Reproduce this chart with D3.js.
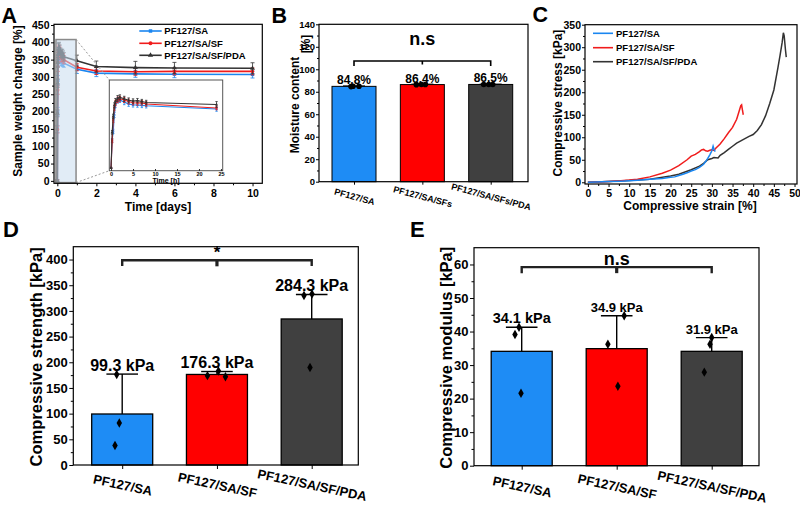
<!DOCTYPE html>
<html><head><meta charset="utf-8">
<script src="https://cdn.jsdelivr.net/npm/d3@7"></script>
<style>body{margin:0;background:#fff}</style>
</head><body>
<svg id="fig" width="800" height="512"></svg>
<script>
// ---------------- DATA ----------------
const groups = ["PF127/SA", "PF127/SA/SF", "PF127/SA/SF/PDA"];
const groupsB = ["PF127/SA", "PF127/SA/SFs", "PF127/SA/SFs/PDA"];

// Panel A: swelling (time in hours)
const hoursA = [0, 0.25, 0.5, 0.75, 1, 1.5, 2, 3, 4, 5, 6, 7, 8, 24, 48, 96, 144, 240];
const weightSA  = [0, 150, 200, 290, 345, 370, 372, 360, 350, 345, 344, 342, 340, 322, 311, 309, 308, 307];
const weightSF  = [0, 148, 262, 330, 355, 372, 378, 372, 363, 357, 355, 356, 350, 328, 317, 315, 316, 316];
const weightPDA = [0, 195, 282, 342, 365, 380, 386, 378, 370, 366, 368, 363, 358, 347, 330, 327, 326, 325];
const errSA  = [3, 10, 12, 14, 15, 15, 14, 14, 13, 12, 12, 12, 12, 12, 10, 10, 10, 10];
const errSF  = [3, 10, 12, 14, 15, 15, 14, 14, 13, 12, 12, 12, 12, 10, 10, 10, 10, 10];
const errPDA = [3, 10, 12, 14, 15, 16, 14, 14, 13, 12, 12, 12, 12, 16, 16, 18, 16, 16];
const yTicksA = [0, 50, 100, 150, 200, 250, 300, 350, 400, 450];
const xTicksA = [0, 2, 4, 6, 8, 10];
const xTicksInset = [0, 5, 10, 15, 20, 25];
const zoomBox = {x0: -0.07, x1: 0.96, y0: -5, y1: 408};

// Panel B: moisture content
const moisture = [84.8, 86.4, 86.5];
const moistureErr = [0.4, 0.4, 0.3];
const moistureDots = [[84.6, 84.9, 84.9], [86.3, 86.5, 86.4], [86.5, 86.5, 86.5]];
const moistureLabels = ["84.8%", "86.4%", "86.5%"];
const yTicksB = [0, 20, 40, 60, 80, 100, 120, 140];

// Panel C: stress-strain curves
const strainSA = [0, 2, 5, 8, 10, 12, 15, 18, 20, 21, 22, 23, 24, 25, 26, 27, 28, 28.5, 29, 29.5, 30, 30.3, 30.5, 30.8];
const stressSA = [0, 0.5, 1.5, 2.5, 3.5, 4.5, 6.5, 8.5, 11, 12, 15, 18, 21, 25, 28, 33, 40, 46, 53, 61, 70, 80, 74, 68];
const strainSF = [0, 2, 5, 8, 10, 12, 15, 18, 20, 22, 24, 25, 26, 27, 27.5, 28, 28.5, 29, 29.5, 30, 30.5, 31, 32, 33, 34, 35, 36, 36.5, 37, 37.2, 37.4, 37.6];
const stressSF = [0, 0.8, 2, 3.5, 5, 7, 12, 20, 27, 37, 50, 58, 62, 68, 72, 73, 70, 69, 71, 72, 71, 76, 85, 97, 110, 122, 140, 155, 170, 172, 160, 150];
const strainPDA = [0, 5, 10, 15, 20, 22, 25, 27, 28, 29, 30, 30.5, 31.5, 32, 33, 34, 35, 36, 37, 38, 39, 40, 41, 42, 43, 44, 45, 46, 46.5, 47, 47.3, 47.5, 47.8, 48];
const stressPDA = [0, 1.5, 4, 7, 14, 18, 28, 36, 42, 50, 53, 55, 54, 60, 66, 73, 80, 87, 92, 97, 102, 106, 115, 128, 148, 175, 205, 255, 282, 310, 332, 325, 295, 278];
const yTicksC = [0, 50, 100, 150, 200, 250, 300, 350];
const xTicksC = [0, 5, 10, 15, 20, 25, 30, 35, 40, 45, 50];

// Panel D: compressive strength
const strength = [99.3, 176.3, 284.3];
const strengthErrTop = [177, 182, 332];
const strengthDots = [[176, 82, 38], [174, 183, 172], [330, 333, 190]];
const strengthLabels = ["99.3 kPa", "176.3 kPa", "284.3 kPa"];
const yTicksD = [0, 50, 100, 150, 200, 250, 300, 350, 400];

// Panel E: compressive modulus
const modulus = [34.1, 34.9, 34.1];
const modulusErrTop = [41.3, 44.7, 38.2];
const modulusDots = [[41.3, 39.1, 21.6], [44.7, 36.2, 23.7], [38.2, 36.2, 27.9]];
const modulusLabels = ["34.1 kPa", "34.9 kPa", "31.9 kPa"];
const yTicksE = [0, 10, 20, 30, 40, 50, 60];

// ---------------- STYLE ----------------
const FONT = "'Liberation Sans', Arial, Helvetica, sans-serif";
const barColors = ["#1e8cf5", "#ff0000", "#404040"];
const lineColors = ["#1a86f0", "#f01c1c", "#333333"];
const jitterB = [[-3, -1, 5], [-6, -1, 3], [-7, -2, 2]];
const jitterD = [[-5.5, -2.9, -7.2], [-9.5, 1.5, 8.5], [-7.7, 0.3, -1.7]];
const jitterE = [[-2.7, -6.7, -0.7], [7.5, -8.8, 1.2], [0, -1.7, -7.4]];
const labelSizeE = [14.5, 13, 13];

const svg = d3.select('#fig');
svg.append('rect').attr('width', 800).attr('height', 512).attr('fill', '#fff');

function styleAxis(sel, fs) {
  sel.select('.domain').remove();
  sel.selectAll('.tick line').attr('stroke', '#000').attr('stroke-width', 1);
  sel.selectAll('.tick text').attr('font-family', FONT).attr('font-weight', 'bold')
    .attr('font-size', fs).attr('fill', '#000');
}
function addAxis(g, axis, tx, ty, fs) {
  return g.append('g').attr('transform', `translate(${tx},${ty})`).call(axis).call(s => styleAxis(s, fs));
}
function frame(g, x0, x1, y0, y1, w = 1.2, col = '#000') {
  g.append('rect').attr('x', x0).attr('y', y0).attr('width', x1 - x0).attr('height', y1 - y0)
    .attr('fill', 'none').attr('stroke', col).attr('stroke-width', w);
}
function label(g, x, y, s, fs, anchor = 'middle', rot = 0) {
  const t = g.append('text').attr('font-family', FONT).attr('font-weight', 'bold')
    .attr('font-size', fs).attr('fill', '#000').attr('text-anchor', anchor).text(s);
  if (rot) t.attr('transform', `translate(${x},${y}) rotate(${rot})`).attr('dy', '0.35em');
  else t.attr('x', x).attr('y', y);
  return t;
}
function minor(ticks) {
  const out = [];
  for (let i = 0; i < ticks.length - 1; i++) out.push((ticks[i] + ticks[i + 1]) / 2);
  return out;
}
function rotLabels(sel, off, rot) {
  sel.selectAll('.tick text').attr('y', 0).attr('dy', '0.35em')
    .attr('transform', `translate(0,${off}) rotate(${rot})`).attr('text-anchor', 'middle');
}

// ================= PANEL A =================
{
  const g = svg.append('g');
  const L = 54, R = 262.3, T = 24.3, B = 183.3;
  const x = d3.scaleLinear([-0.17, 10.5], [L, R]);
  const y = d3.scaleLinear([-7, 452], [B, T]);
  addAxis(g, d3.axisLeft(y).tickValues(minor(yTicksA)).tickSize(2).tickFormat(''), L, 0, 0);
  addAxis(g, d3.axisLeft(y).tickValues(yTicksA).tickSize(3).tickPadding(1.5), L, 0, 10.5);
  addAxis(g, d3.axisBottom(x).tickValues([1, 3, 5, 7, 9]).tickSize(2).tickFormat(''), 0, B, 0);
  addAxis(g, d3.axisBottom(x).tickValues(xTicksA).tickSize(3).tickPadding(3.5), 0, B, 10.5);

  const series = [
    {v: weightSA, e: errSA, c: lineColors[0], sym: d3.symbolSquare},
    {v: weightSF, e: errSF, c: lineColors[1], sym: d3.symbolCircle},
    {v: weightPDA, e: errPDA, c: lineColors[2], sym: d3.symbolTriangle}
  ];
  function drawSeries(gg, xs, ys, pts, s, lw, cap, msize) {
    gg.append('path').datum(pts).attr('d', d3.line().x(d => xs(d.t)).y(d => ys(d.v)))
      .attr('fill', 'none').attr('stroke', s.c).attr('stroke-width', lw);
    const eb = gg.append('g').attr('stroke', s.c).attr('stroke-width', 0.8);
    pts.forEach(d => {
      eb.append('line').attr('x1', xs(d.t)).attr('x2', xs(d.t)).attr('y1', ys(d.v - d.e)).attr('y2', ys(d.v + d.e));
      [d.v - d.e, d.v + d.e].forEach(yy => eb.append('line').attr('x1', xs(d.t) - cap).attr('x2', xs(d.t) + cap)
        .attr('y1', ys(yy)).attr('y2', ys(yy)));
    });
    gg.append('g').selectAll('path').data(pts).join('path')
      .attr('d', d3.symbol(s.sym, msize)).attr('transform', d => `translate(${xs(d.t)},${ys(d.v)})`)
      .attr('fill', s.c);
  }
  series.forEach(s => {
    const pts = hoursA.map((h, i) => ({t: h / 24, v: s.v[i], e: s.e[i]}));
    drawSeries(g, x, y, pts, s, 1.6, 2, 10);
  });
  // zoom box
  g.append('rect').attr('x', x(zoomBox.x0)).attr('y', y(zoomBox.y1))
    .attr('width', x(zoomBox.x1) - x(zoomBox.x0)).attr('height', y(zoomBox.y0) - y(zoomBox.y1))
    .attr('fill', '#c9dcee').attr('fill-opacity', 0.55).attr('stroke', '#8a8a8a').attr('stroke-width', 1.5);
  // inset
  const iL = 109.3, iR = 222.7, iT = 80, iB = 170.7;
  g.append('line').attr('x1', x(zoomBox.x1)).attr('y1', y(zoomBox.y1)).attr('x2', iL).attr('y2', iT)
    .attr('stroke', '#999').attr('stroke-dasharray', '2,2');
  g.append('line').attr('x1', x(zoomBox.x1)).attr('y1', y(zoomBox.y0)).attr('x2', iL).attr('y2', iB)
    .attr('stroke', '#999').attr('stroke-dasharray', '2,2');
  g.append('rect').attr('x', iL).attr('y', iT).attr('width', iR - iL).attr('height', iB - iT).attr('fill', '#fff');
  const xi = d3.scaleLinear([-0.4, 25.4], [iL, iR]);
  const yi = d3.scaleLinear([-15, 481], [iB, iT]);
  series.forEach(s => {
    const pts = hoursA.map((h, i) => ({t: h, v: s.v[i], e: s.e[i]})).filter(d => d.t <= 24);
    drawSeries(g, xi, yi, pts, s, 1.1, 1.2, 4);
  });
  frame(g, iL, iR, iT, iB, 1, '#555');
  addAxis(g, d3.axisBottom(xi).tickValues(xTicksInset).tickSize(-1.5).tickPadding(1.2), 0, iB, 5.5);
  label(g, (iL + iR) / 2, 182.5, 'Time [h]', 7);
  
  frame(g, L, R, T, B);
  // legend
  const ly = [31, 43.3, 55.3];
  series.forEach((s, i) => {
    g.append('line').attr('x1', 139.3).attr('x2', 161.7).attr('y1', ly[i]).attr('y2', ly[i])
      .attr('stroke', s.c).attr('stroke-width', 1.6);
    g.append('path').attr('d', d3.symbol(s.sym, 12)).attr('transform', `translate(150.5,${ly[i]})`).attr('fill', s.c);
    label(g, 164.3, ly[i], groups[i], 9.5, 'start').attr('dy', '0.35em');
  });
  label(g, 158, 211, 'Time [days]', 12);
  label(g, 18, 101, 'Sample weight change [%]', 12, 'middle', -90);
  label(g, 1.5, 23.3, 'A', 21.5, 'start');
}

// ================= PANEL B =================
{
  const g = svg.append('g');
  const L = 319, R = 528, T = 24.3, B = 181.7;
  const x = d3.scalePoint(groupsB, [354, 490.7]);
  const y = d3.scaleLinear([0, 140], [B, T]);
  const bw = 44;
  groupsB.forEach((c, i) => {
    g.append('rect').attr('x', x(c) - bw / 2).attr('y', y(moisture[i])).attr('width', bw)
      .attr('height', y(0) - y(moisture[i])).attr('fill', barColors[i]).attr('stroke', '#000').attr('stroke-width', 1);
    const et = moisture[i] + moistureErr[i];
    g.append('line').attr('x1', x(c)).attr('x2', x(c)).attr('y1', y(moisture[i])).attr('y2', y(et)).attr('stroke', '#000');
    g.append('line').attr('x1', x(c) - 11).attr('x2', x(c) + 11).attr('y1', y(et)).attr('y2', y(et)).attr('stroke', '#000');
    g.append('g').selectAll('circle').data(moistureDots[i]).join('circle')
      .attr('cx', (d, j) => x(c) + jitterB[i][j]).attr('cy', d => y(d)).attr('r', 2.8).attr('fill', '#000');
    label(g, x(c), y(moisture[i]) - 2, moistureLabels[i], 12);
  });
  addAxis(g, d3.axisLeft(y).tickValues(minor(yTicksB)).tickSize(2).tickFormat(''), L, 0, 0);
  addAxis(g, d3.axisLeft(y).tickValues(yTicksB).tickSize(3).tickPadding(1), L, 0, 9.5);
  addAxis(g, d3.axisBottom(x).tickSize(3), 0, B, 9).call(s => rotLabels(s, 15, 15));
  frame(g, L, R, T, B);
  // bracket
  const by = 61;
  g.append('path').attr('d', `M${x(groupsB[0])},${by + 5}V${by}H${x(groupsB[2])}V${by + 5}M${x(groupsB[1])},${by}V${by + 3.5}`)
    .attr('fill', 'none').attr('stroke', '#000').attr('stroke-width', 1.6);
  label(g, x(groupsB[1]), 45, 'n.s', 18);
  label(g, 295, 94, 'Moisture content ', 12, 'middle', -90).append('tspan').attr('dy', 11).text('[%]');
  label(g, 271.5, 22.7, 'B', 21.5, 'start');
}

// ================= PANEL C =================
{
  const g = svg.append('g');
  const L = 585, R = 797, T = 24.7, B = 184;
  const x = d3.scaleLinear([-0.7, 50.6], [L, R]);
  const y = d3.scaleLinear([-3.8, 350], [B, T]);
  addAxis(g, d3.axisLeft(y).tickValues(minor(yTicksC)).tickSize(2).tickFormat(''), L, 0, 0);
  addAxis(g, d3.axisLeft(y).tickValues(yTicksC).tickSize(3).tickPadding(1), L, 0, 10.5);
  addAxis(g, d3.axisBottom(x).tickValues(minor(xTicksC)).tickSize(2).tickFormat(''), 0, B, 0);
  addAxis(g, d3.axisBottom(x).tickValues(xTicksC).tickSize(3).tickPadding(3), 0, B, 10.5);
  const curves = [[strainPDA, stressPDA, lineColors[2]], [strainSF, stressSF, lineColors[1]], [strainSA, stressSA, lineColors[0]]];
  curves.forEach(([xs, ys, c]) => {
    const pts = xs.map((v, i) => [v, ys[i]]);
    g.append('path').datum(pts).attr('d', d3.line().x(d => x(d[0])).y(d => y(d[1])))
      .attr('fill', 'none').attr('stroke', c).attr('stroke-width', 1.5);
  });
  frame(g, L, R, T, B);
  const ly = [33.3, 47.7, 61.7];
  groups.forEach((n, i) => {
    g.append('line').attr('x1', 593).attr('x2', 613).attr('y1', ly[i]).attr('y2', ly[i])
      .attr('stroke', lineColors[i]).attr('stroke-width', 1.6);
    label(g, 616, ly[i], n, 9.5, 'start').attr('dy', '0.35em');
  });
  label(g, 690, 210, 'Compressive strain [%]', 12);
  label(g, 558, 103, 'Compressive stress [kPa]', 12, 'middle', -90);
  label(g, 532.5, 21.7, 'C', 21.5, 'start');
}

// ============ PANELS D & E (bar charts) ============
function barPanel(opt) {
  const g = svg.append('g');
  const {L, R, T, B} = opt;
  const x = d3.scalePoint(groups, opt.centers);
  const y = d3.scaleLinear(opt.domain, [B, T]);
  const bw = 61;
  groups.forEach((c, i) => {
    const v = opt.values[i];
    g.append('rect').attr('x', x(c) - bw / 2).attr('y', y(v)).attr('width', bw).attr('height', y(0) - y(v))
      .attr('fill', barColors[i]).attr('stroke', '#000').attr('stroke-width', 1.3);
    g.append('line').attr('x1', x(c)).attr('x2', x(c)).attr('y1', y(v)).attr('y2', y(opt.errTop[i]))
      .attr('stroke', '#000').attr('stroke-width', 1.4);
    g.append('line').attr('x1', x(c) - 15.8).attr('x2', x(c) + 15.8).attr('y1', y(opt.errTop[i])).attr('y2', y(opt.errTop[i]))
      .attr('stroke', '#000').attr('stroke-width', 1.4);
    g.append('g').selectAll('path').data(opt.dots[i]).join('path')
      .attr('d', d3.symbol(d3.symbolDiamond, 26))
      .attr('transform', (d, j) => `translate(${x(c) + opt.jitter[i][j]},${y(d)})`).attr('fill', '#000');
    label(g, x(c), y(opt.errTop[i]) - opt.labelGap, opt.labels[i], opt.labelSizes[i]);
  });
  addAxis(g, d3.axisLeft(y).tickValues(minor(opt.ticks)).tickSize(2.5).tickFormat(''), L, 0, 0);
  addAxis(g, d3.axisLeft(y).tickValues(opt.ticks).tickSize(4).tickPadding(1.5), L, 0, 13);
  addAxis(g, d3.axisBottom(x).tickSize(4), 0, B, 13).call(s => rotLabels(s, opt.xlabOff, 12));
  frame(g, L, R, T, B);
  const by = y(opt.bracket.y), bd = y(opt.bracket.y - opt.bracket.drop);
  g.append('path').attr('d', `M${x(groups[0])},${bd}V${by}H${x(groups[2])}V${bd}`)
    .attr('fill', 'none').attr('stroke', '#222').attr('stroke-width', 2.4);
  g.append('line').attr('x1', x(groups[1])).attr('x2', x(groups[1])).attr('y1', by).attr('y2', by + 6)
    .attr('stroke', '#222').attr('stroke-width', 3.2);
  label(g, x(groups[1]), opt.sig.y, opt.sig.text, opt.sig.size);
  label(g, opt.ylabX, (T + B) / 2 + 1, opt.ylab, 16.5, 'middle', -90);
  label(g, opt.letterX, 236.7, opt.letter, 22, 'start');
}

barPanel({
  L: 73.3, R: 358.3, T: 246.7, B: 465, centers: [122.2, 311.7], domain: [0, 425],
  values: strength, errTop: strengthErrTop, dots: strengthDots, jitter: jitterD,
  labels: strengthLabels, labelSizes: [16, 16, 16], labelGap: 3.5, ticks: yTicksD, xlabOff: 20,
  bracket: {y: 398.5, drop: 11}, sig: {y: 258, text: '*', size: 17},
  ylab: 'Compressive strength [kPa]', ylabX: 36, letter: 'D', letterX: 3
});
barPanel({
  L: 474, R: 759, T: 247.7, B: 465.7, centers: [521.7, 711.7], domain: [0, 65],
  values: modulus, errTop: modulusErrTop, dots: modulusDots, jitter: jitterE,
  labels: modulusLabels, labelSizes: labelSizeE, labelGap: 4, ticks: yTicksE, xlabOff: 21,
  bracket: {y: 59.2, drop: 1.8}, sig: {y: 265, text: 'n.s', size: 18},
  ylab: 'Compressive modulus [kPa]', ylabX: 446, letter: 'E', letterX: 410
});
</script>
</body></html>
